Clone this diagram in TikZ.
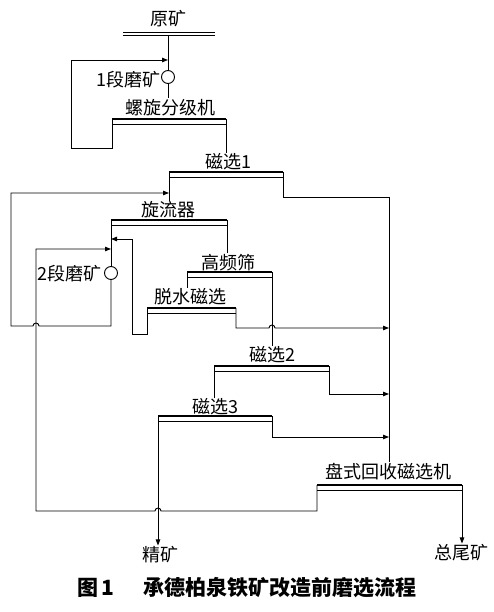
\documentclass[tikz,border=0pt]{standalone}
\usepackage{fontspec}
\setmainfont{Noto Sans CJK SC}
\usetikzlibrary{arrows.meta}

\tikzset{
  flow/.style={line width=0.9pt},
  arr/.style={flow,-{Triangle[length=6pt,width=4.5pt]}},
  bar/.style={line width=2.5pt},
  lbl/.style={font=\fontsize{18}{18}\selectfont, inner sep=1pt},
  mill/.style={draw,circle,line width=0.9pt,minimum size=13pt,inner sep=0pt}
}

\begin{document}
\begin{tikzpicture}[x=1pt,y=-1pt]
 \useasboundingbox (0,0) rectangle (493,612);

% Feed
 \node[lbl] (feed) at (168,19) {原矿};
 \draw[flow] (123,32) coordinate (fd-l) -- (215,32) coordinate (fd-r);
 \draw[flow] ([yshift=-3.5pt]fd-l) -- ([yshift=-3.5pt]fd-r);
 \coordinate (fd-c) at (168,35);

% 1st stage grinding and classifier
 \node[mill] (g1) at (168,77) {};
 \node[lbl,anchor=east] (g1-t) at (162,80) {1段磨矿};
 \node[lbl] (cls) at (170,108) {螺旋分级机};
 \coordinate (cls-l) at (112,119);
 \coordinate (cls-r) at (226,119);
 \draw[bar] (cls-l) -- (cls-r);
 \draw[flow] ([yshift=-5pt]cls-l) -- ([yshift=-5pt]cls-r);
 \draw[flow] (fd-c) -- (g1.north);
 \draw[flow] (g1.south) -- (g1.south |- cls.north);
 \draw[arr] (cls-l) -- (112,148) -- (71,148) -- (71,60) -- (g1.north |- 0,60);

% Magnetic separation 1
 \node[lbl] (ms1) at (228,162) {磁选1};
 \coordinate (ms1-l) at (169,172);
 \coordinate (ms1-r) at (283,172);
 \draw[bar] (ms1-l) -- (ms1-r);
 \draw[flow] ([yshift=-5pt]ms1-l) -- ([yshift=-5pt]ms1-r);
 \draw[flow] (cls-r) -- (cls-r |- ms1.north);
 \coordinate (tail) at (389,197);
 \draw[flow] (ms1-r) -- (283,197) -- (tail);

% Cyclone and 2nd stage grinding
 \node[lbl] (cyc) at (168,210) {旋流器};
 \coordinate (cyc-l) at (111,220);
 \coordinate (cyc-r) at (227,220);
 \draw[bar] (cyc-l) -- (cyc-r);
 \draw[flow] ([yshift=-5pt]cyc-l) -- ([yshift=-5pt]cyc-r);
 \draw[flow] (ms1-l) -- (ms1-l |- cyc.north);
 \node[mill] (g2) at (111,273) {};
 \node[lbl,anchor=east] (g2-t) at (103,274) {2段磨矿};
 \draw[flow] (cyc-l) -- (g2.north);
 \draw[arr] (g2.south) -- (111,326) -- (39,326)
   arc[start angle=0,end angle=180,radius=3pt] -- (11,326) -- (11,193) -- (ms1-l |- 0,193);

% High frequency screen
 \node[lbl] (scr) at (228,263) {高频筛};
 \coordinate (scr-l) at (187,272);
 \coordinate (scr-r) at (272,272);
 \draw[bar] (scr-l) -- (scr-r);
 \draw[flow] ([yshift=-5pt]scr-l) -- ([yshift=-5pt]scr-r);
 \draw[flow] (cyc-r) -- (cyc-r |- scr.north);

% Dewatering magnetic separation
 \node[lbl] (dw) at (190,297) {脱水磁选};
 \coordinate (dw-l) at (147,308);
 \coordinate (dw-r) at (236,308);
 \draw[bar] (dw-l) -- (dw-r);
 \draw[flow] ([yshift=-5pt]dw-l) -- ([yshift=-5pt]dw-r);
 \draw[flow] (scr-l) -- (scr-l |- dw.north);
 \draw[arr] (dw-l) -- (147,334) -- (132,334) -- (132,239) -- (g2.north |- 0,239);
 \draw[arr] (dw-r) -- (236,328) -- (269,328)
   arc[start angle=180,end angle=0,radius=3pt] -- (tail |- 0,328);

% Magnetic separation 2 and 3
 \node[lbl] (ms2) at (272,355) {磁选2};
 \coordinate (ms2-l) at (214,366);
 \coordinate (ms2-r) at (329,366);
 \draw[bar] (ms2-l) -- (ms2-r);
 \draw[flow] ([yshift=-5pt]ms2-l) -- ([yshift=-5pt]ms2-r);
 \draw[flow] (scr-r) -- (scr-r |- ms2.north);
 \draw[arr] (ms2-r) -- (329,394) -- (tail |- 0,394);

 \node[lbl] (ms3) at (215,407) {磁选3};
 \coordinate (ms3-l) at (158,416);
 \coordinate (ms3-r) at (272,416);
 \draw[bar] (ms3-l) -- (ms3-r);
 \draw[flow] ([yshift=-5pt]ms3-l) -- ([yshift=-5pt]ms3-r);
 \draw[flow] (ms2-l) -- (ms2-l |- ms3.north);
 \draw[arr] (ms3-r) -- (272,437) -- (tail |- 0,437);

% Disc recovery separator
 \node[lbl] (disc) at (388,472) {盘式回收磁选机};
 \coordinate (disc-l) at (317,485);
 \coordinate (disc-r) at (462,485);
 \draw[bar] (disc-l) -- (disc-r);
 \draw[flow] ([yshift=-5pt]disc-l) -- ([yshift=-5pt]disc-r);
 \draw[flow] (tail) -- (tail |- disc.north);
 \draw[arr] (disc-l) -- (317,511) -- (161,511)
   arc[start angle=0,end angle=180,radius=3pt] -- (36,511) -- (36,249) -- (g2.north |- 0,249);

% Products
 \node[lbl] (conc) at (160,555) {精矿};
 \node[lbl] (tails) at (461,553) {总尾矿};
 \draw[arr] (ms3-l) -- (conc.north -| ms3-l);
 \draw[arr] (disc-r) -- (tails.north -| disc-r);

% Caption
 \node[font=\fontsize{21}{21}\selectfont\bfseries] (fig) at (96,588) {图\,1};
 \node[font=\fontsize{21}{21}\selectfont\bfseries] (cap) at (280,588) {承德柏泉铁矿改造前磨选流程};
\end{tikzpicture}
\end{document}
